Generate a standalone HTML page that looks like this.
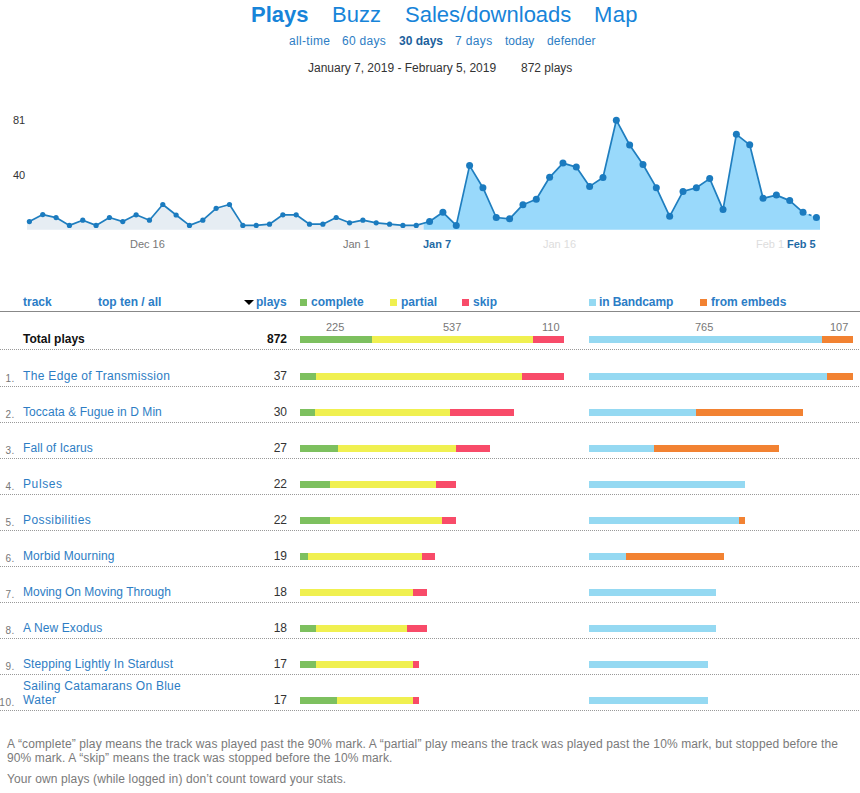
<!DOCTYPE html>
<html><head><meta charset="utf-8"><style>
html,body{margin:0;padding:0;background:#fff;}
body{width:860px;height:793px;position:relative;overflow:hidden;font-family:"Liberation Sans",sans-serif;color:#333;}
.a{position:absolute;white-space:nowrap;line-height:1;}
.nav{font-size:22px;color:#1784d9;top:4px;}
.sub{font-size:12px;color:#2d7dc4;top:35px;}
.chart{position:absolute;left:0;top:0;}
.yl{position:absolute;font-size:11px;color:#333;left:13px;line-height:1;}
.xl{position:absolute;font-size:11px;line-height:1;top:239px;white-space:nowrap;}
.hd{position:absolute;font-size:12px;font-weight:bold;color:#2b7dc6;top:296px;line-height:1;white-space:nowrap;}
.sq{position:absolute;width:7px;height:7px;top:299px;}
.b{position:absolute;height:7px;}
.dot{position:absolute;left:0;width:860px;height:1px;background:repeating-linear-gradient(90deg,#999 0 1px,transparent 1px 2px);}
.idx{position:absolute;font-size:10px;color:#777;line-height:1;right:845px;letter-spacing:0.6px;}
.name{position:absolute;left:23px;font-size:12px;color:#2d7dc4;line-height:14px;white-space:nowrap;}
.pl{position:absolute;right:573px;font-size:12px;color:#333;line-height:1;}
.lab{position:absolute;font-size:11px;color:#777;top:322px;line-height:1;}
.foot{position:absolute;left:7px;font-size:12px;color:#7a7a7a;line-height:14px;white-space:nowrap;letter-spacing:0.12px;}
</style></head><body>
<div class="a nav" style="left:251px;font-weight:bold">Plays</div>
<div class="a nav" style="left:332px">Buzz</div>
<div class="a nav" style="left:405px">Sales/downloads</div>
<div class="a nav" style="left:594px;letter-spacing:0.4px">Map</div>
<div class="a sub" style="left:289px;letter-spacing:0.33px">all-time</div>
<div class="a sub" style="left:342px;letter-spacing:0.27px">60 days</div>
<div class="a sub" style="left:399px;font-weight:bold;color:#215f9c">30 days</div>
<div class="a sub" style="left:455px;letter-spacing:0.36px">7 days</div>
<div class="a sub" style="left:505px">today</div>
<div class="a sub" style="left:547px;letter-spacing:0.16px">defender</div>
<div class="a" style="left:308px;top:62px;font-size:12px;color:#333">January 7, 2019 - February 5, 2019</div>
<div class="a" style="left:521px;top:62px;font-size:12px;color:#333">872 plays</div>
<svg class="chart" width="860" height="260" viewBox="0 0 860 260">
<polygon points="27.00,229.70 27.00,221.60 29.40,221.60 42.74,214.60 56.08,217.60 69.42,225.40 82.76,220.20 96.09,225.40 109.43,217.50 122.77,221.60 136.11,214.80 149.45,220.20 162.79,204.50 176.13,215.00 189.47,225.40 202.81,220.20 216.15,208.30 229.48,204.50 242.82,225.40 256.16,225.40 269.50,224.20 282.84,214.80 296.18,214.80 309.52,224.20 322.86,224.20 336.20,217.50 349.54,222.80 362.87,220.20 376.21,222.80 389.55,224.20 402.89,225.40 416.23,225.40 423.60,223.25 423.60,229.70" fill="#e6edf3"/>
<polygon points="423.60,229.70 423.60,223.25 429.57,221.50 442.91,212.30 456.25,225.40 469.59,165.60 482.93,187.70 496.26,217.50 509.60,218.80 522.94,204.70 536.28,199.20 549.62,177.30 562.96,163.10 576.30,167.10 589.64,186.40 602.98,177.50 616.32,120.20 629.65,145.00 642.99,164.50 656.33,187.70 669.67,216.30 683.01,191.40 696.35,187.70 709.69,178.60 723.03,209.60 736.37,134.30 749.71,144.80 763.04,198.30 776.38,195.10 789.72,200.60 803.06,212.30 816.40,217.40 820.00,217.40 820.00,229.70" fill="#99d9fb"/>
<polyline points="29.40,221.60 42.74,214.60 56.08,217.60 69.42,225.40 82.76,220.20 96.09,225.40 109.43,217.50 122.77,221.60 136.11,214.80 149.45,220.20 162.79,204.50 176.13,215.00 189.47,225.40 202.81,220.20 216.15,208.30 229.48,204.50 242.82,225.40 256.16,225.40 269.50,224.20 282.84,214.80 296.18,214.80 309.52,224.20 322.86,224.20 336.20,217.50 349.54,222.80 362.87,220.20 376.21,222.80 389.55,224.20 402.89,225.40 416.23,225.40 429.57,221.50 442.91,212.30 456.25,225.40 469.59,165.60 482.93,187.70 496.26,217.50 509.60,218.80 522.94,204.70 536.28,199.20 549.62,177.30 562.96,163.10 576.30,167.10 589.64,186.40 602.98,177.50 616.32,120.20 629.65,145.00 642.99,164.50 656.33,187.70 669.67,216.30 683.01,191.40 696.35,187.70 709.69,178.60 723.03,209.60 736.37,134.30 749.71,144.80 763.04,198.30 776.38,195.10 789.72,200.60 803.06,212.30" fill="none" stroke="#1f7ebf" stroke-width="1.7" stroke-linejoin="round"/>
<polyline points="803.06,212.30 816.40,217.40" fill="none" stroke="#1f7ebf" stroke-width="1.7" stroke-dasharray="3,3"/>
<g fill="#1b7bbf"><circle cx="29.40" cy="221.60" r="2.6"/><circle cx="42.74" cy="214.60" r="2.6"/><circle cx="56.08" cy="217.60" r="2.6"/><circle cx="69.42" cy="225.40" r="2.6"/><circle cx="82.76" cy="220.20" r="2.6"/><circle cx="96.09" cy="225.40" r="2.6"/><circle cx="109.43" cy="217.50" r="2.6"/><circle cx="122.77" cy="221.60" r="2.6"/><circle cx="136.11" cy="214.80" r="2.6"/><circle cx="149.45" cy="220.20" r="2.6"/><circle cx="162.79" cy="204.50" r="2.6"/><circle cx="176.13" cy="215.00" r="2.6"/><circle cx="189.47" cy="225.40" r="2.6"/><circle cx="202.81" cy="220.20" r="2.6"/><circle cx="216.15" cy="208.30" r="2.6"/><circle cx="229.48" cy="204.50" r="2.6"/><circle cx="242.82" cy="225.40" r="2.6"/><circle cx="256.16" cy="225.40" r="2.6"/><circle cx="269.50" cy="224.20" r="2.6"/><circle cx="282.84" cy="214.80" r="2.6"/><circle cx="296.18" cy="214.80" r="2.6"/><circle cx="309.52" cy="224.20" r="2.6"/><circle cx="322.86" cy="224.20" r="2.6"/><circle cx="336.20" cy="217.50" r="2.6"/><circle cx="349.54" cy="222.80" r="2.6"/><circle cx="362.87" cy="220.20" r="2.6"/><circle cx="376.21" cy="222.80" r="2.6"/><circle cx="389.55" cy="224.20" r="2.6"/><circle cx="402.89" cy="225.40" r="2.6"/><circle cx="416.23" cy="225.40" r="2.6"/><circle cx="429.57" cy="221.50" r="3.5"/><circle cx="442.91" cy="212.30" r="3.5"/><circle cx="456.25" cy="225.40" r="3.5"/><circle cx="469.59" cy="165.60" r="3.5"/><circle cx="482.93" cy="187.70" r="3.5"/><circle cx="496.26" cy="217.50" r="3.5"/><circle cx="509.60" cy="218.80" r="3.5"/><circle cx="522.94" cy="204.70" r="3.5"/><circle cx="536.28" cy="199.20" r="3.5"/><circle cx="549.62" cy="177.30" r="3.5"/><circle cx="562.96" cy="163.10" r="3.5"/><circle cx="576.30" cy="167.10" r="3.5"/><circle cx="589.64" cy="186.40" r="3.5"/><circle cx="602.98" cy="177.50" r="3.5"/><circle cx="616.32" cy="120.20" r="3.5"/><circle cx="629.65" cy="145.00" r="3.5"/><circle cx="642.99" cy="164.50" r="3.5"/><circle cx="656.33" cy="187.70" r="3.5"/><circle cx="669.67" cy="216.30" r="3.5"/><circle cx="683.01" cy="191.40" r="3.5"/><circle cx="696.35" cy="187.70" r="3.5"/><circle cx="709.69" cy="178.60" r="3.5"/><circle cx="723.03" cy="209.60" r="3.5"/><circle cx="736.37" cy="134.30" r="3.5"/><circle cx="749.71" cy="144.80" r="3.5"/><circle cx="763.04" cy="198.30" r="3.5"/><circle cx="776.38" cy="195.10" r="3.5"/><circle cx="789.72" cy="200.60" r="3.5"/><circle cx="803.06" cy="212.30" r="3.5"/><circle cx="816.40" cy="217.40" r="3.5"/></g>
</svg>
<div class="yl" style="top:115px">81</div>
<div class="yl" style="top:170px">40</div>
<div class="xl" style="left:130px;color:#777">Dec 16</div>
<div class="xl" style="left:343px;color:#777">Jan 1</div>
<div class="xl" style="left:423px;color:#1f6aa5;font-weight:bold">Jan 7</div>
<div class="xl" style="left:543px;color:#ddd">Jan 16</div>
<div class="xl" style="left:756px;color:#ddd">Feb 1</div>
<div class="xl" style="left:787px;color:#1f6aa5;font-weight:bold">Feb 5</div>

<div class="hd" style="left:23px">track</div>
<div class="hd" style="left:98px">top ten / all</div>
<div class="hd" style="left:243px"><span style="display:inline-block;width:0;height:0;border-left:5px solid transparent;border-right:5px solid transparent;border-top:5px solid #000;position:absolute;left:0.5px;top:4px"></span><span style="position:absolute;left:13px">plays</span></div>
<div class="sq" style="left:300px;background:#7dc05f"></div><div class="hd" style="left:311px">complete</div>
<div class="sq" style="left:390px;background:#f0f050"></div><div class="hd" style="left:401px">partial</div>
<div class="sq" style="left:462px;background:#f84b69"></div><div class="hd" style="left:473px">skip</div>
<div class="sq" style="left:589px;background:#95d9f2"></div><div class="hd" style="left:599px;letter-spacing:-0.1px">in Bandcamp</div>
<div class="sq" style="left:700px;background:#f28232"></div><div class="hd" style="left:711px">from embeds</div>
<div style="position:absolute;left:0;top:311px;width:860px;height:1px;background:#888"></div>

<div class="a" style="left:23px;top:333px;font-size:12px;font-weight:bold;color:#111">Total plays</div>
<div class="a" style="right:573px;top:333px;font-size:12px;font-weight:bold;color:#111">872</div>
<div class="lab" style="left:326px">225</div>
<div class="lab" style="left:443px">537</div>
<div class="lab" style="left:542px">110</div>
<div class="lab" style="left:695px">765</div>
<div class="lab" style="left:830px">107</div>
<div class="b" style="top:336px;left:300px;width:72px;background:#7dc05f"></div><div class="b" style="top:336px;left:372px;width:161px;background:#f0f050"></div><div class="b" style="top:336px;left:533px;width:31px;background:#f84b69"></div><div class="b" style="top:336px;left:589px;width:233px;background:#95d9f2"></div><div class="b" style="top:336px;left:822px;width:31px;background:#f28232"></div>
<div class="dot" style="top:349px"></div>
<div class="idx" style="top:374px">1.</div><div class="name" style="top:369px;letter-spacing:0.33px">The Edge of Transmission</div><div class="pl" style="top:370px">37</div><div class="b" style="top:373px;left:300px;width:16px;background:#7dc05f"></div><div class="b" style="top:373px;left:316px;width:206px;background:#f0f050"></div><div class="b" style="top:373px;left:522px;width:42px;background:#f84b69"></div><div class="b" style="top:373px;left:589px;width:238px;background:#95d9f2"></div><div class="b" style="top:373px;left:827px;width:26px;background:#f28232"></div><div class="dot" style="top:386px"></div><div class="idx" style="top:410px">2.</div><div class="name" style="top:405px;letter-spacing:0.06px">Toccata &amp; Fugue in D Min</div><div class="pl" style="top:406px">30</div><div class="b" style="top:409px;left:300px;width:15px;background:#7dc05f"></div><div class="b" style="top:409px;left:315px;width:135px;background:#f0f050"></div><div class="b" style="top:409px;left:450px;width:64px;background:#f84b69"></div><div class="b" style="top:409px;left:589px;width:107px;background:#95d9f2"></div><div class="b" style="top:409px;left:696px;width:107px;background:#f28232"></div><div class="dot" style="top:422px"></div><div class="idx" style="top:446px">3.</div><div class="name" style="top:441px;letter-spacing:0.08px">Fall of Icarus</div><div class="pl" style="top:442px">27</div><div class="b" style="top:445px;left:300px;width:38px;background:#7dc05f"></div><div class="b" style="top:445px;left:338px;width:118px;background:#f0f050"></div><div class="b" style="top:445px;left:456px;width:34px;background:#f84b69"></div><div class="b" style="top:445px;left:589px;width:65px;background:#95d9f2"></div><div class="b" style="top:445px;left:654px;width:125px;background:#f28232"></div><div class="dot" style="top:458px"></div><div class="idx" style="top:482px">4.</div><div class="name" style="top:477px;letter-spacing:0.6px">Pulses</div><div class="pl" style="top:478px">22</div><div class="b" style="top:481px;left:300px;width:30px;background:#7dc05f"></div><div class="b" style="top:481px;left:330px;width:106px;background:#f0f050"></div><div class="b" style="top:481px;left:436px;width:20px;background:#f84b69"></div><div class="b" style="top:481px;left:589px;width:156px;background:#95d9f2"></div><div class="dot" style="top:494px"></div><div class="idx" style="top:518px">5.</div><div class="name" style="top:513px;letter-spacing:0.42px">Possibilities</div><div class="pl" style="top:514px">22</div><div class="b" style="top:517px;left:300px;width:30px;background:#7dc05f"></div><div class="b" style="top:517px;left:330px;width:112px;background:#f0f050"></div><div class="b" style="top:517px;left:442px;width:14px;background:#f84b69"></div><div class="b" style="top:517px;left:589px;width:150px;background:#95d9f2"></div><div class="b" style="top:517px;left:739px;width:6px;background:#f28232"></div><div class="dot" style="top:530px"></div><div class="idx" style="top:554px">6.</div><div class="name" style="top:549px;letter-spacing:0.1px">Morbid Mourning</div><div class="pl" style="top:550px">19</div><div class="b" style="top:553px;left:300px;width:8px;background:#7dc05f"></div><div class="b" style="top:553px;left:308px;width:114px;background:#f0f050"></div><div class="b" style="top:553px;left:422px;width:13px;background:#f84b69"></div><div class="b" style="top:553px;left:589px;width:37px;background:#95d9f2"></div><div class="b" style="top:553px;left:626px;width:98px;background:#f28232"></div><div class="dot" style="top:566px"></div><div class="idx" style="top:590px">7.</div><div class="name" style="top:585px;letter-spacing:0px">Moving On Moving Through</div><div class="pl" style="top:586px">18</div><div class="b" style="top:589px;left:300px;width:0px;background:#7dc05f"></div><div class="b" style="top:589px;left:300px;width:113px;background:#f0f050"></div><div class="b" style="top:589px;left:413px;width:14px;background:#f84b69"></div><div class="b" style="top:589px;left:589px;width:127px;background:#95d9f2"></div><div class="dot" style="top:602px"></div><div class="idx" style="top:626px">8.</div><div class="name" style="top:621px;letter-spacing:0.11px">A New Exodus</div><div class="pl" style="top:622px">18</div><div class="b" style="top:625px;left:300px;width:16px;background:#7dc05f"></div><div class="b" style="top:625px;left:316px;width:91px;background:#f0f050"></div><div class="b" style="top:625px;left:407px;width:20px;background:#f84b69"></div><div class="b" style="top:625px;left:589px;width:127px;background:#95d9f2"></div><div class="dot" style="top:638px"></div><div class="idx" style="top:662px">9.</div><div class="name" style="top:657px;letter-spacing:0.12px">Stepping Lightly In Stardust</div><div class="pl" style="top:658px">17</div><div class="b" style="top:661px;left:300px;width:16px;background:#7dc05f"></div><div class="b" style="top:661px;left:316px;width:97px;background:#f0f050"></div><div class="b" style="top:661px;left:413px;width:6px;background:#f84b69"></div><div class="b" style="top:661px;left:589px;width:119px;background:#95d9f2"></div><div class="dot" style="top:674px"></div><div class="idx" style="top:698px">10.</div><div class="name" style="top:679px"><span style="letter-spacing:0.25px">Sailing Catamarans On Blue</span><br><span style="letter-spacing:0.37px">Water</span></div><div class="pl" style="top:694px">17</div><div class="b" style="top:697px;left:300px;width:37px;background:#7dc05f"></div><div class="b" style="top:697px;left:337px;width:76px;background:#f0f050"></div><div class="b" style="top:697px;left:413px;width:6px;background:#f84b69"></div><div class="b" style="top:697px;left:589px;width:119px;background:#95d9f2"></div><div class="dot" style="top:710px"></div>
<div class="foot" style="top:737px">A &#8220;complete&#8221; play means the track was played past the 90% mark. A &#8220;partial&#8221; play means the track was played past the 10% mark, but stopped before the<br>90% mark. A &#8220;skip&#8221; means the track was stopped before the 10% mark.</div>
<div class="foot" style="top:772px">Your own plays (while logged in) don&#8217;t count toward your stats.</div>
</body></html>
